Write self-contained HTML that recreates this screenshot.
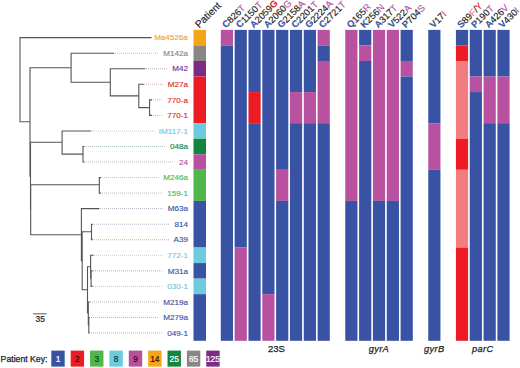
<!DOCTYPE html><html><head><meta charset="utf-8"><style>html,body{margin:0;padding:0;background:#fff;}svg{display:block;}</style></head><body>
<svg width="520" height="368" viewBox="0 0 520 368" font-family="'Liberation Sans', sans-serif">
<rect width="520" height="368" fill="#fff"/>
<rect x="220.80" y="29.90" width="12.2" height="15.54" fill="#b852a0"/>
<rect x="220.80" y="45.45" width="12.2" height="295.36" fill="#3953a4"/>
<rect x="234.63" y="29.90" width="12.2" height="217.63" fill="#3953a4"/>
<rect x="234.63" y="247.53" width="12.2" height="93.27" fill="#b852a0"/>
<rect x="248.46" y="29.90" width="12.2" height="62.18" fill="#3953a4"/>
<rect x="248.46" y="92.08" width="12.2" height="31.09" fill="#ed1c24"/>
<rect x="248.46" y="123.17" width="12.2" height="217.63" fill="#3953a4"/>
<rect x="262.29" y="29.90" width="12.2" height="264.26" fill="#3953a4"/>
<rect x="262.29" y="294.16" width="12.2" height="46.63" fill="#b852a0"/>
<rect x="276.12" y="29.90" width="12.2" height="139.91" fill="#3953a4"/>
<rect x="276.12" y="169.81" width="12.2" height="31.09" fill="#b852a0"/>
<rect x="276.12" y="200.90" width="12.2" height="139.91" fill="#3953a4"/>
<rect x="289.95" y="29.90" width="12.2" height="62.18" fill="#3953a4"/>
<rect x="289.95" y="92.08" width="12.2" height="31.09" fill="#b852a0"/>
<rect x="289.95" y="123.17" width="12.2" height="217.63" fill="#3953a4"/>
<rect x="303.78" y="29.90" width="12.2" height="62.18" fill="#3953a4"/>
<rect x="303.78" y="92.08" width="12.2" height="31.09" fill="#b852a0"/>
<rect x="303.78" y="123.17" width="12.2" height="217.63" fill="#3953a4"/>
<rect x="317.61" y="29.90" width="12.2" height="15.54" fill="#b852a0"/>
<rect x="317.61" y="45.45" width="12.2" height="15.54" fill="#3953a4"/>
<rect x="317.61" y="60.99" width="12.2" height="62.18" fill="#b852a0"/>
<rect x="317.61" y="123.17" width="12.2" height="217.63" fill="#3953a4"/>
<rect x="345.27" y="29.90" width="12.2" height="171.00" fill="#b852a0"/>
<rect x="345.27" y="200.90" width="12.2" height="139.91" fill="#3953a4"/>
<rect x="359.10" y="29.90" width="12.2" height="15.54" fill="#3953a4"/>
<rect x="359.10" y="45.45" width="12.2" height="15.54" fill="#b852a0"/>
<rect x="359.10" y="60.99" width="12.2" height="279.81" fill="#3953a4"/>
<rect x="372.93" y="29.90" width="12.2" height="171.00" fill="#b852a0"/>
<rect x="372.93" y="200.90" width="12.2" height="139.91" fill="#3953a4"/>
<rect x="386.76" y="29.90" width="12.2" height="171.00" fill="#b852a0"/>
<rect x="386.76" y="200.90" width="12.2" height="139.91" fill="#3953a4"/>
<rect x="400.59" y="29.90" width="12.2" height="31.09" fill="#3953a4"/>
<rect x="400.59" y="60.99" width="12.2" height="15.54" fill="#b852a0"/>
<rect x="400.59" y="76.53" width="12.2" height="264.26" fill="#3953a4"/>
<rect x="428.25" y="29.90" width="12.2" height="93.27" fill="#3953a4"/>
<rect x="428.25" y="123.17" width="12.2" height="46.63" fill="#b852a0"/>
<rect x="428.25" y="169.81" width="12.2" height="171.00" fill="#3953a4"/>
<rect x="455.91" y="29.90" width="12.2" height="15.54" fill="#3953a4"/>
<rect x="455.91" y="45.45" width="12.2" height="15.54" fill="#ed1c24"/>
<rect x="455.91" y="60.99" width="12.2" height="77.72" fill="#f27c80"/>
<rect x="455.91" y="138.72" width="12.2" height="31.09" fill="#ed1c24"/>
<rect x="455.91" y="169.81" width="12.2" height="77.72" fill="#f27c80"/>
<rect x="455.91" y="247.53" width="12.2" height="93.27" fill="#ed1c24"/>
<rect x="469.74" y="29.90" width="12.2" height="46.63" fill="#3953a4"/>
<rect x="469.74" y="76.53" width="12.2" height="15.54" fill="#b852a0"/>
<rect x="469.74" y="92.08" width="12.2" height="248.72" fill="#3953a4"/>
<rect x="483.57" y="29.90" width="12.2" height="46.63" fill="#3953a4"/>
<rect x="483.57" y="76.53" width="12.2" height="46.63" fill="#b852a0"/>
<rect x="483.57" y="123.17" width="12.2" height="217.63" fill="#3953a4"/>
<rect x="497.40" y="29.90" width="12.2" height="46.63" fill="#3953a4"/>
<rect x="497.40" y="76.53" width="12.2" height="46.63" fill="#b852a0"/>
<rect x="497.40" y="123.17" width="12.2" height="217.63" fill="#3953a4"/>
<rect x="193.5" y="29.90" width="12.5" height="15.54" fill="#f6a41a"/>
<rect x="193.5" y="45.45" width="12.5" height="15.54" fill="#878785"/>
<rect x="193.5" y="60.99" width="12.5" height="15.54" fill="#7e2a87"/>
<rect x="193.5" y="76.53" width="12.5" height="46.63" fill="#ed1c24"/>
<rect x="193.5" y="123.17" width="12.5" height="15.54" fill="#6ccbdd"/>
<rect x="193.5" y="138.72" width="12.5" height="15.54" fill="#13853f"/>
<rect x="193.5" y="154.26" width="12.5" height="15.54" fill="#b850a0"/>
<rect x="193.5" y="169.81" width="12.5" height="31.09" fill="#50b84a"/>
<rect x="193.5" y="200.90" width="12.5" height="46.63" fill="#3953a4"/>
<rect x="193.5" y="247.53" width="12.5" height="15.54" fill="#6ccbdd"/>
<rect x="193.5" y="263.07" width="12.5" height="15.54" fill="#3953a4"/>
<rect x="193.5" y="278.62" width="12.5" height="15.54" fill="#6ccbdd"/>
<rect x="193.5" y="294.16" width="12.5" height="46.63" fill="#3953a4"/>
<path d="M20.00 37.67L20.00 121.70 M20.00 37.67L151.00 37.67 M20.00 121.70L30.00 121.70 M30.00 67.70L30.00 176.10 M30.00 67.70L71.10 67.70 M30.00 176.10L30.50 176.10 M71.10 53.22L71.10 82.30 M71.10 53.22L113.60 53.22 M71.10 82.30L110.30 82.30 M110.30 68.76L110.30 95.90 M110.30 68.76L144.80 68.76 M110.30 95.90L138.80 95.90 M138.80 84.31L138.80 107.60 M138.80 84.31L143.40 84.31 M138.80 107.60L149.60 107.60 M149.60 99.85L149.60 115.40 M149.60 99.85L151.50 99.85 M149.60 115.40L151.50 115.40 M30.50 142.20L30.50 209.80 M30.50 142.20L62.10 142.20 M62.10 130.94L62.10 154.10 M62.10 130.94L90.60 130.94 M62.10 154.10L83.00 154.10 M83.00 146.49L83.00 162.03 M83.00 146.49L84.00 146.49 M83.00 162.03L84.00 162.03 M30.70 184.80L30.70 234.80 M30.50 184.80L99.30 184.80 M30.70 234.80L81.40 234.80 M99.30 177.58L99.30 193.12 M99.30 177.58L100.50 177.58 M99.30 193.12L100.50 193.12 M81.40 208.67L81.40 261.00 M81.40 208.67L98.80 208.67 M81.40 261.00L82.20 261.00 M82.20 231.80L82.20 289.80 M82.20 231.80L91.50 231.80 M82.20 289.80L87.50 289.80 M91.50 224.21L91.50 239.76 M91.50 224.21L92.50 224.21 M91.50 239.76L92.50 239.76 M87.50 266.70L87.50 313.00 M87.50 266.70L90.60 266.70 M87.50 313.00L88.30 313.00 M90.60 255.30L90.60 278.30 M90.60 255.30L93.00 255.30 M90.60 278.30L91.10 278.30 M91.10 270.85L91.10 286.39 M91.10 270.85L92.00 270.85 M91.10 286.39L92.00 286.39 M88.30 301.94L88.30 324.90 M88.30 301.94L89.30 301.94 M88.30 324.90L88.80 324.90 M88.80 317.48L88.80 333.03 M88.80 317.48L89.50 317.48 M88.80 333.03L89.50 333.03" stroke="#555" stroke-width="1.1" fill="none" stroke-linecap="square"/>
<text x="187.9" y="40.37" font-size="8.1" text-anchor="end" fill="#f6a41a" stroke="#f6a41a" stroke-width="0.15">Ma4526a</text>
<line x1="115" y1="53.22" x2="158.64" y2="53.22" stroke="#b2b2b1" stroke-width="0.8" stroke-dasharray="1,1"/>
<text x="187.9" y="55.92" font-size="8.1" text-anchor="end" fill="#878785" stroke="#878785" stroke-width="0.15">M142a</text>
<line x1="146" y1="68.76" x2="167.64" y2="68.76" stroke="#af9eb2" stroke-width="0.8" stroke-dasharray="1,1"/>
<text x="187.9" y="71.46" font-size="8.1" text-anchor="end" fill="#7e2a87" stroke="#7e2a87" stroke-width="0.15">M42</text>
<line x1="144" y1="84.31" x2="163.14" y2="84.31" stroke="#c79b9d" stroke-width="0.8" stroke-dasharray="1,1"/>
<text x="187.9" y="87.01" font-size="8.1" text-anchor="end" fill="#ed1c24" stroke="#ed1c24" stroke-width="0.15">M27a</text>
<line x1="153" y1="99.85" x2="162.69" y2="99.85" stroke="#c79b9d" stroke-width="0.8" stroke-dasharray="1,1"/>
<text x="187.9" y="102.55" font-size="8.1" text-anchor="end" fill="#ed1c24" stroke="#ed1c24" stroke-width="0.15">770-a</text>
<line x1="153" y1="115.40" x2="162.69" y2="115.40" stroke="#c79b9d" stroke-width="0.8" stroke-dasharray="1,1"/>
<text x="187.9" y="118.10" font-size="8.1" text-anchor="end" fill="#ed1c24" stroke="#ed1c24" stroke-width="0.15">770-1</text>
<line x1="92" y1="130.94" x2="154.29" y2="130.94" stroke="#acc0c4" stroke-width="0.8" stroke-dasharray="1,1"/>
<text x="187.9" y="133.64" font-size="8.1" text-anchor="end" fill="#6ccbdd" stroke="#6ccbdd" stroke-width="0.15">IM117-1</text>
<line x1="86" y1="146.49" x2="165.38" y2="146.49" stroke="#99b1a2" stroke-width="0.8" stroke-dasharray="1,1"/>
<text x="187.9" y="149.19" font-size="8.1" text-anchor="end" fill="#13853f" stroke="#13853f" stroke-width="0.15">048a</text>
<line x1="86" y1="162.03" x2="174.39" y2="162.03" stroke="#bca6b7" stroke-width="0.8" stroke-dasharray="1,1"/>
<text x="187.9" y="164.73" font-size="8.1" text-anchor="end" fill="#b850a0" stroke="#b850a0" stroke-width="0.15">24</text>
<line x1="102" y1="177.58" x2="158.64" y2="177.58" stroke="#a6bca5" stroke-width="0.8" stroke-dasharray="1,1"/>
<text x="187.9" y="180.28" font-size="8.1" text-anchor="end" fill="#50b84a" stroke="#50b84a" stroke-width="0.15">M246a</text>
<line x1="102" y1="193.12" x2="162.69" y2="193.12" stroke="#a6bca5" stroke-width="0.8" stroke-dasharray="1,1"/>
<text x="187.9" y="195.82" font-size="8.1" text-anchor="end" fill="#50b84a" stroke="#50b84a" stroke-width="0.15">159-1</text>
<line x1="100" y1="208.67" x2="163.14" y2="208.67" stroke="#a1a6b8" stroke-width="0.8" stroke-dasharray="1,1"/>
<text x="187.9" y="211.37" font-size="8.1" text-anchor="end" fill="#3953a4" stroke="#3953a4" stroke-width="0.15">M63a</text>
<line x1="94" y1="224.21" x2="169.89" y2="224.21" stroke="#a1a6b8" stroke-width="0.8" stroke-dasharray="1,1"/>
<text x="187.9" y="226.91" font-size="8.1" text-anchor="end" fill="#3953a4" stroke="#3953a4" stroke-width="0.15">814</text>
<line x1="94" y1="239.76" x2="168.99" y2="239.76" stroke="#a1a6b8" stroke-width="0.8" stroke-dasharray="1,1"/>
<text x="187.9" y="242.46" font-size="8.1" text-anchor="end" fill="#3953a4" stroke="#3953a4" stroke-width="0.15">A39</text>
<line x1="94" y1="255.30" x2="162.69" y2="255.30" stroke="#acc0c4" stroke-width="0.8" stroke-dasharray="1,1"/>
<text x="187.9" y="258.00" font-size="8.1" text-anchor="end" fill="#6ccbdd" stroke="#6ccbdd" stroke-width="0.15">772-1</text>
<line x1="93" y1="270.85" x2="163.14" y2="270.85" stroke="#a1a6b8" stroke-width="0.8" stroke-dasharray="1,1"/>
<text x="187.9" y="273.55" font-size="8.1" text-anchor="end" fill="#3953a4" stroke="#3953a4" stroke-width="0.15">M31a</text>
<line x1="93" y1="286.39" x2="162.69" y2="286.39" stroke="#acc0c4" stroke-width="0.8" stroke-dasharray="1,1"/>
<text x="187.9" y="289.09" font-size="8.1" text-anchor="end" fill="#6ccbdd" stroke="#6ccbdd" stroke-width="0.15">030-1</text>
<line x1="90" y1="301.94" x2="158.64" y2="301.94" stroke="#a1a6b8" stroke-width="0.8" stroke-dasharray="1,1"/>
<text x="187.9" y="304.64" font-size="8.1" text-anchor="end" fill="#3953a4" stroke="#3953a4" stroke-width="0.15">M219a</text>
<line x1="91" y1="317.48" x2="158.64" y2="317.48" stroke="#a1a6b8" stroke-width="0.8" stroke-dasharray="1,1"/>
<text x="187.9" y="320.18" font-size="8.1" text-anchor="end" fill="#3953a4" stroke="#3953a4" stroke-width="0.15">M279a</text>
<line x1="91" y1="333.03" x2="162.69" y2="333.03" stroke="#a1a6b8" stroke-width="0.8" stroke-dasharray="1,1"/>
<text x="187.9" y="335.73" font-size="8.1" text-anchor="end" fill="#3953a4" stroke="#3953a4" stroke-width="0.15">049-1</text>
<line x1="33.1" y1="313.8" x2="46.5" y2="313.8" stroke="#666" stroke-width="1.1"/>
<text x="35.6" y="322.4" font-size="8.4" fill="#222" stroke="#222" stroke-width="0.2">35</text>
<text transform="translate(199.30,28.6) rotate(-45)" font-size="10.2" stroke-width="0.15"><tspan fill="#222" stroke="#222">Patient</tspan></text>
<text transform="translate(226.00,28.6) rotate(-45)" font-size="9.4" stroke-width="0.15"><tspan fill="#3953a4" stroke="#3953a4" font-weight="bold">C</tspan><tspan fill="#222" stroke="#222">826</tspan><tspan fill="#b852a0" stroke="#b852a0">T</tspan></text>
<text transform="translate(239.83,28.6) rotate(-45)" font-size="9.4" stroke-width="0.15"><tspan fill="#3953a4" stroke="#3953a4" font-weight="bold">C</tspan><tspan fill="#222" stroke="#222">1150</tspan><tspan fill="#b852a0" stroke="#b852a0">T</tspan></text>
<text transform="translate(253.66,28.6) rotate(-45)" font-size="9.4" stroke-width="0.15"><tspan fill="#3953a4" stroke="#3953a4" font-weight="bold">A</tspan><tspan fill="#222" stroke="#222">2059</tspan><tspan fill="#ed1c24" stroke="#ed1c24" font-weight="bold">G</tspan></text>
<text transform="translate(267.49,28.6) rotate(-45)" font-size="9.4" stroke-width="0.15"><tspan fill="#3953a4" stroke="#3953a4" font-weight="bold">A</tspan><tspan fill="#222" stroke="#222">2060</tspan><tspan fill="#b852a0" stroke="#b852a0">G</tspan></text>
<text transform="translate(281.32,28.6) rotate(-45)" font-size="9.4" stroke-width="0.15"><tspan fill="#3953a4" stroke="#3953a4" font-weight="bold">G</tspan><tspan fill="#222" stroke="#222">2158</tspan><tspan fill="#b852a0" stroke="#b852a0">A</tspan></text>
<text transform="translate(295.15,28.6) rotate(-45)" font-size="9.4" stroke-width="0.15"><tspan fill="#3953a4" stroke="#3953a4" font-weight="bold">C</tspan><tspan fill="#222" stroke="#222">2201</tspan><tspan fill="#b852a0" stroke="#b852a0">T</tspan></text>
<text transform="translate(308.98,28.6) rotate(-45)" font-size="9.4" stroke-width="0.15"><tspan fill="#3953a4" stroke="#3953a4" font-weight="bold">G</tspan><tspan fill="#222" stroke="#222">2224</tspan><tspan fill="#b852a0" stroke="#b852a0">A</tspan></text>
<text transform="translate(322.81,28.6) rotate(-45)" font-size="9.4" stroke-width="0.15"><tspan fill="#3953a4" stroke="#3953a4" font-weight="bold">C</tspan><tspan fill="#222" stroke="#222">2721</tspan><tspan fill="#b852a0" stroke="#b852a0">T</tspan></text>
<text transform="translate(350.47,28.6) rotate(-45)" font-size="9.4" stroke-width="0.15"><tspan fill="#3953a4" stroke="#3953a4" font-weight="bold">Q</tspan><tspan fill="#222" stroke="#222">165</tspan><tspan fill="#b852a0" stroke="#b852a0">R</tspan></text>
<text transform="translate(364.30,28.6) rotate(-45)" font-size="9.4" stroke-width="0.15"><tspan fill="#3953a4" stroke="#3953a4" font-weight="bold">K</tspan><tspan fill="#222" stroke="#222">256</tspan><tspan fill="#b852a0" stroke="#b852a0">N</tspan></text>
<text transform="translate(378.13,28.6) rotate(-45)" font-size="9.4" stroke-width="0.15"><tspan fill="#3953a4" stroke="#3953a4" font-weight="bold">A</tspan><tspan fill="#222" stroke="#222">317</tspan><tspan fill="#b852a0" stroke="#b852a0">T</tspan></text>
<text transform="translate(391.96,28.6) rotate(-45)" font-size="9.4" stroke-width="0.15"><tspan fill="#3953a4" stroke="#3953a4" font-weight="bold">V</tspan><tspan fill="#222" stroke="#222">522</tspan><tspan fill="#b852a0" stroke="#b852a0">A</tspan></text>
<text transform="translate(405.79,28.6) rotate(-45)" font-size="9.4" stroke-width="0.15"><tspan fill="#3953a4" stroke="#3953a4" font-weight="bold">P</tspan><tspan fill="#222" stroke="#222">704</tspan><tspan fill="#b852a0" stroke="#b852a0">S</tspan></text>
<text transform="translate(433.45,28.6) rotate(-45)" font-size="9.4" stroke-width="0.15"><tspan fill="#3953a4" stroke="#3953a4" font-weight="bold">V</tspan><tspan fill="#222" stroke="#222">17</tspan><tspan fill="#b852a0" stroke="#b852a0">I</tspan></text>
<text transform="translate(461.11,28.6) rotate(-45)" font-size="9.4" stroke-width="0.15"><tspan fill="#3953a4" stroke="#3953a4" font-weight="bold">S</tspan><tspan fill="#222" stroke="#222">89</tspan><tspan fill="#f27c80" stroke="#f27c80">F</tspan><tspan fill="#222" stroke="#222">/</tspan><tspan fill="#ed1c24" stroke="#ed1c24">Y</tspan></text>
<text transform="translate(474.94,28.6) rotate(-45)" font-size="9.4" stroke-width="0.15"><tspan fill="#3953a4" stroke="#3953a4" font-weight="bold">P</tspan><tspan fill="#222" stroke="#222">190</tspan><tspan fill="#b852a0" stroke="#b852a0">T</tspan></text>
<text transform="translate(488.77,28.6) rotate(-45)" font-size="9.4" stroke-width="0.15"><tspan fill="#3953a4" stroke="#3953a4" font-weight="bold">A</tspan><tspan fill="#222" stroke="#222">426</tspan><tspan fill="#b852a0" stroke="#b852a0">V</tspan></text>
<text transform="translate(502.60,28.6) rotate(-45)" font-size="9.4" stroke-width="0.15"><tspan fill="#3953a4" stroke="#3953a4" font-weight="bold">V</tspan><tspan fill="#222" stroke="#222">430</tspan><tspan fill="#b852a0" stroke="#b852a0">I</tspan></text>
<text x="276.5" y="351.8" font-size="9.5" text-anchor="middle" fill="#222" stroke="#222" stroke-width="0.25">23S</text>
<text x="378.93" y="351.8" font-size="9.3" letter-spacing="0.35" text-anchor="middle" font-style="italic" fill="#222" stroke="#222" stroke-width="0.25">gyrA</text>
<text x="434.25" y="351.8" font-size="9.3" letter-spacing="0.35" text-anchor="middle" font-style="italic" fill="#222" stroke="#222" stroke-width="0.25">gyrB</text>
<text x="482.75" y="351.8" font-size="9.3" letter-spacing="0.35" text-anchor="middle" font-style="italic" fill="#222" stroke="#222" stroke-width="0.25">parC</text>
<text x="0.6" y="361.5" font-size="8.7" fill="#222" stroke="#222" stroke-width="0.25">Patient Key:</text>
<rect x="51.30" y="350.6" width="13.4" height="16" fill="#3953a4"/>
<text x="58.00" y="362" font-size="8.4" text-anchor="middle" fill="#fff" stroke="#fff" stroke-width="0.2">1</text>
<rect x="70.67" y="350.6" width="13.4" height="16" fill="#ed1c24"/>
<text x="77.37" y="362" font-size="8.4" text-anchor="middle" fill="#400" stroke="#400" stroke-width="0.2">2</text>
<rect x="90.04" y="350.6" width="13.4" height="16" fill="#50b84a"/>
<text x="96.74" y="362" font-size="8.4" text-anchor="middle" fill="#042" stroke="#042" stroke-width="0.2">3</text>
<rect x="109.41" y="350.6" width="13.4" height="16" fill="#6ccbdd"/>
<text x="116.11" y="362" font-size="8.4" text-anchor="middle" fill="#134" stroke="#134" stroke-width="0.2">8</text>
<rect x="128.78" y="350.6" width="13.4" height="16" fill="#b850a0"/>
<text x="135.48" y="362" font-size="8.4" text-anchor="middle" fill="#401" stroke="#401" stroke-width="0.2">9</text>
<rect x="148.15" y="350.6" width="13.4" height="16" fill="#f6a41a"/>
<text x="154.85" y="362" font-size="8.4" text-anchor="middle" fill="#310" stroke="#310" stroke-width="0.2">14</text>
<rect x="167.52" y="350.6" width="13.4" height="16" fill="#13853f"/>
<text x="174.22" y="362" font-size="8.4" text-anchor="middle" fill="#fff" stroke="#fff" stroke-width="0.2">25</text>
<rect x="186.89" y="350.6" width="13.4" height="16" fill="#878785"/>
<text x="193.59" y="362" font-size="8.4" text-anchor="middle" fill="#fff" stroke="#fff" stroke-width="0.2">65</text>
<rect x="206.26" y="350.6" width="13.4" height="16" fill="#7e2a87"/>
<text x="212.96" y="362" font-size="8.4" text-anchor="middle" fill="#fff" stroke="#fff" stroke-width="0.2">125</text>
</svg></body></html>
